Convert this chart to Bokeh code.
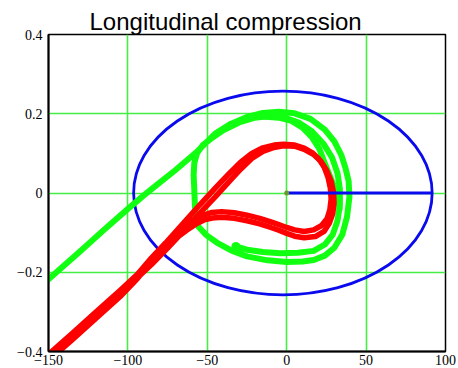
from bokeh.plotting import figure
from bokeh.models import FixedTicker, Range1d
from bokeh.embed import file_html
from bokeh.resources import INLINE

TITLE = "Longitudinal compression"

x_ticks = [-150, -100, -50, 0, 50, 100]
x_tick_labels = ["\u2212150", "\u2212100", "\u221250", "0", "50", "100"]
y_ticks = [-0.4, -0.2, 0, 0.2, 0.4]
y_tick_labels = ["\u22120.4", "\u22120.2", "0", "0.2", "0.4"]

# blue ellipse (acceptance) and ray
ellipse_cx = [-2.4]
ellipse_cy = [0.0]
ellipse_w = [188.0]
ellipse_h = [0.514]
ray_x = [0, 91.5]
ray_y = [0, 0]

# red trajectory, first pass
red1_x = [-156, -148, -135, -120, -105, -94, -85, -75, -65, -55, -45, -36, -29, -22,
          -15, -8, -2, 5, 11, 16, 20, 23.5, 26, 27.5, 28, 27.2, 25.5, 22, 17, 11, 5,
          0, -5, -10, -17, -25, -33, -41, -47, -52, -57, -63, -70, -77, -85, -94]
red1_y = [-0.428, -0.400, -0.354, -0.300, -0.246, -0.205, -0.166, -0.121, -0.076,
          -0.031, 0.012, 0.050, 0.078, 0.100, 0.114, 0.121, 0.123, 0.121, 0.113,
          0.102, 0.087, 0.066, 0.040, 0.012, -0.015, -0.042, -0.064, -0.082, -0.093,
          -0.097, -0.093, -0.087, -0.080, -0.073, -0.064, -0.056, -0.050, -0.047,
          -0.049, -0.055, -0.064, -0.080, -0.103, -0.129, -0.163, -0.205]

# red trajectory, second pass
red2_x = [-94, -85, -75, -65, -55, -45, -36, -29, -22, -15, -8, -2, 5, 11, 17, 21.5,
          25, 28, 29.5, 29.8, 29, 27, 23.5, 18, 11, 5, 0, -5, -10, -17, -25, -33,
          -41, -47, -52, -57, -63, -70, -77, -85, -94, -105, -120, -135, -148, -156]
red2_y = [-0.214, -0.180, -0.139, -0.096, -0.052, -0.010, 0.030, 0.060, 0.087, 0.105,
          0.115, 0.119, 0.118, 0.110, 0.097, 0.080, 0.058, 0.030, 0.002, -0.025,
          -0.052, -0.075, -0.097, -0.110, -0.113, -0.109, -0.102, -0.094, -0.087,
          -0.078, -0.070, -0.064, -0.061, -0.063, -0.068, -0.078, -0.094, -0.115,
          -0.140, -0.172, -0.216, -0.262, -0.316, -0.370, -0.416, -0.444]

# green trajectory
green_x = [-32, -25, -15, -4, 7, 17, 24, 29, 32, 33.5, 33.5, 32, 28.5, 23, 16, 8, -1,
           -10, -20, -30, -40, -48, -53, -56.5, -58.2, -58.6, -58.2, -57.8, -57.3,
           -55.5, -51, -44, -35, -25, -12, 0, 10, 17, 24, 30, 35, 38, 39.5, 39, 37.2,
           34.5, 30, 24, 15, 5, -5, -15, -25, -35, -45, -56, -70, -80, -90, -100, -115,
           -130, -145, -160]
green_y = [-0.135, -0.143, -0.149, -0.152, -0.151, -0.146, -0.130, -0.105, -0.070,
           -0.030, 0.010, 0.050, 0.090, 0.125, 0.155, 0.177, 0.190, 0.195, 0.190,
           0.178, 0.158, 0.136, 0.120, 0.100, 0.075, 0.045, 0.010, -0.030, -0.062,
           -0.085, -0.105, -0.125, -0.145, -0.160, -0.170, -0.174, -0.173, -0.169,
           -0.158, -0.138, -0.105, -0.060, -0.010, 0.030, 0.060, 0.095, 0.130, 0.160,
           0.187, 0.201, 0.205, 0.202, 0.192, 0.175, 0.150, 0.106, 0.058, 0.026,
           -0.006, -0.040, -0.093, -0.147, -0.200, -0.254]

# green innermost strand on the upper right
green3_x = [-15, -5, 3, 10, 16, 20.5, 23.5, 26.5, 29.5, 32, 33.3]
green3_y = [0.193, 0.190, 0.182, 0.165, 0.140, 0.112, 0.080, 0.050, 0.020, -0.010,
            -0.040]

GRID = "#44ee44"
GREEN = "#11ff11"
RED = "#ff0000"
BLUE = "#0a0aee"

p = figure(width=458, height=368, output_backend="svg", toolbar_location=None,
           x_range=Range1d(-150, 100), y_range=Range1d(-0.4, 0.4),
           min_border_left=48, min_border_right=13, min_border_top=34,
           min_border_bottom=17)

p.title.text = TITLE
p.title.align = "left"
p.title.offset = 41
p.title.text_font = "Liberation Sans"
p.title.text_font_size = "24px"
p.title.text_font_style = "normal"
p.title.text_color = "black"
p.title.standoff = 0

p.background_fill_color = "white"
p.border_fill_color = "white"
p.outline_line_color = "black"
p.outline_line_width = 1.5

for ax, ticks, labels in ((p.xaxis, x_ticks, x_tick_labels), (p.yaxis, y_ticks, y_tick_labels)):
    ax.ticker = FixedTicker(ticks=ticks)
    ax.major_label_overrides = {t: l for t, l in zip(ticks, labels)}
    ax.major_tick_line_color = None
    ax.minor_tick_line_color = None
    ax.major_tick_out = 0
    ax.major_tick_in = 0
    ax.axis_line_color = "black"
    ax.axis_line_width = 2
    ax.major_label_text_font = "Liberation Serif"
    ax.major_label_text_font_size = "14px"
    ax.major_label_text_color = "black"
p.xaxis.major_label_standoff = 3
p.yaxis.major_label_standoff = 6

p.xgrid.ticker = FixedTicker(ticks=x_ticks)
p.ygrid.ticker = FixedTicker(ticks=y_ticks)
for g in (p.xgrid, p.ygrid):
    g.grid_line_color = GRID
    g.grid_line_width = 1.6
    g.grid_line_alpha = 1.0

p.ellipse(x=ellipse_cx, y=ellipse_cy, width=ellipse_w, height=ellipse_h,
          fill_color=None, line_color=BLUE, line_width=2.8)

p.line(green_x, green_y, line_color=GREEN, line_width=6,
       line_cap="round", line_join="round")
p.line(green3_x, green3_y, line_color=GREEN, line_width=6,
       line_cap="round", line_join="round")
p.scatter(green_x[:1], green_y[:1], size=9, fill_color=GREEN, line_color=None)
p.line(red1_x, red1_y, line_color=RED, line_width=5.5,
       line_cap="round", line_join="round")
p.line(red2_x, red2_y, line_color=RED, line_width=5.5,
       line_cap="round", line_join="round")

p.line(ray_x, ray_y, line_color=BLUE, line_width=2.8)
p.scatter([0], [0], size=5, fill_color="#6a9a2a", line_color=None)

open("out.html", "w").write(file_html(p, INLINE))
